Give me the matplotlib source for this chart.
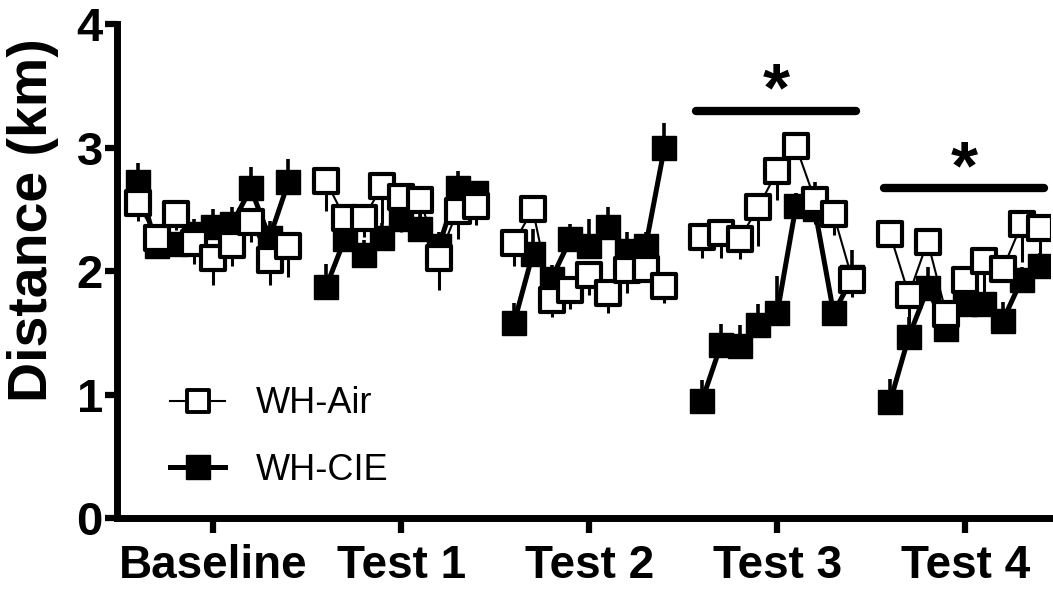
import matplotlib
matplotlib.use("Agg")
import matplotlib.pyplot as plt
from matplotlib.markers import MarkerStyle
from matplotlib.lines import Line2D
import numpy as np

# Session blocks and daily running distance (km), 9 sessions per block
groups = ["Baseline", "Test 1", "Test 2", "Test 3", "Test 4"]
sessions_per_group = 9

air_mean = [2.55, 2.27, 2.46, 2.23, 2.11, 2.21, 2.40, 2.09, 2.20,
            2.73, 2.43, 2.43, 2.69, 2.60, 2.58, 2.11, 2.49, 2.53,
            2.23, 2.50, 1.77, 1.85, 1.97, 1.82, 2.01, 2.02, 1.88,
            2.28, 2.31, 2.26, 2.52, 2.81, 3.01, 2.58, 2.46, 1.93,
            2.30, 1.81, 2.24, 1.65, 1.93, 2.08, 2.02, 2.38, 2.35]
air_sem = [0.14, 0.10, 0.13, 0.17, 0.22, 0.17, 0.16, 0.20, 0.25,
           0.24, 0.12, 0.15, 0.30, 0.28, 0.15, 0.26, 0.23, 0.16,
           0.19, 0.10, 0.14, 0.16, 0.16, 0.16, 0.19, 0.10, 0.14,
           0.17, 0.20, 0.16, 0.32, 0.23, 0.10, 0.20, 0.17, 0.14,
           0.10, 0.23, 0.10, 0.10, 0.10, 0.25, 0.10, 0.31, 0.28]

cie_mean = [2.72, 2.20, 2.22, 2.30, 2.36, 2.38, 2.67, 2.27, 2.72,
            1.87, 2.26, 2.13, 2.27, 2.42, 2.34, 2.20, 2.67, 2.63,
            1.58, 2.14, 1.94, 2.26, 2.20, 2.36, 2.16, 2.20, 3.00,
            0.95, 1.40, 1.39, 1.56, 1.66, 2.53, 2.50, 1.66, 1.95,
            0.94, 1.47, 1.86, 1.53, 1.73, 1.73, 1.60, 1.93, 2.04]
cie_sem = [0.16, 0.10, 0.10, 0.12, 0.14, 0.14, 0.17, 0.14, 0.19,
           0.19, 0.12, 0.12, 0.12, 0.12, 0.12, 0.12, 0.14, 0.10,
           0.16, 0.20, 0.11, 0.12, 0.22, 0.16, 0.16, 0.12, 0.20,
           0.17, 0.17, 0.17, 0.17, 0.30, 0.10, 0.22, 0.10, 0.22,
           0.19, 0.16, 0.17, 0.10, 0.10, 0.10, 0.15, 0.10, 0.11]

# Significance brackets: (block index, bar height, star height)
sig_groups = [3, 4]
sig_bar_y = [3.30, 2.67]
sig_star_y = [3.45, 2.82]

BOLD = "Liberation Sans"
fig = plt.figure(figsize=(10.53, 5.92), dpi=100)
ax = fig.add_axes([0.111, 0.125, 0.886, 0.834])

air_marker = MarkerStyle("s", joinstyle="round")
zeros = np.zeros(sessions_per_group)

for g in range(len(groups)):
    xs = np.arange(sessions_per_group) + 10 * g
    sl = slice(sessions_per_group * g, sessions_per_group * (g + 1))
    cm, cs = np.array(cie_mean[sl]), np.array(cie_sem[sl])
    am, as_ = np.array(air_mean[sl]), np.array(air_sem[sl])
    # WH-CIE: filled squares, upward SEM
    ax.errorbar(xs, cm, yerr=[zeros, cs], fmt="none", ecolor="black",
                elinewidth=2.6, capsize=0, zorder=2)
    ax.plot(xs, cm, color="black", lw=3.6, marker="s", ms=17, mfc="black",
            mec="black", mew=1, zorder=3, solid_capstyle="round")
    # WH-Air: open squares, downward SEM
    ax.errorbar(xs, am, yerr=[as_, zeros], fmt="none", ecolor="black",
                elinewidth=2.2, capsize=0, zorder=4)
    ax.plot(xs, am, color="black", lw=1.5, marker=air_marker, ms=17,
            mfc="white", mec="black", mew=3, zorder=5)

for g, by, sy in zip(sig_groups, sig_bar_y, sig_star_y):
    x0 = 10 * g - 0.3
    x1 = 10 * g + 8.2
    ax.plot([x0, x1], [by, by], color="black", lw=6, solid_capstyle="round",
            zorder=6, clip_on=False)
    ax.text((x0 + x1) / 2, sy, "*", ha="center", va="center",
            fontsize=50, fontweight="bold", family=BOLD, zorder=6)

ax.set_xlim(-1.12, 48.5)
ax.set_ylim(0, 4)
ax.set_xticks([10 * g + 4 for g in range(len(groups))])
ax.set_xticklabels(groups)
ax.set_yticks([0, 1, 2, 3, 4])

for s in ["top", "right"]:
    ax.spines[s].set_visible(False)
for s in ["left", "bottom"]:
    ax.spines[s].set_linewidth(5)
    ax.spines[s].set_capstyle("projecting")

ax.tick_params(axis="both", width=4.5, direction="out")
ax.tick_params(axis="y", length=9, pad=1)
ax.tick_params(axis="x", length=11, pad=8)
for lab in ax.get_xticklabels():
    lab.set_family(BOLD)
    lab.set_fontweight("bold")
    lab.set_fontsize(33)
for lab in ax.get_yticklabels():
    lab.set_family(BOLD)
    lab.set_fontweight("bold")
    lab.set_fontsize(34)

fig.text(0.031, 0.628, "Distance (km)", rotation=90, ha="center", va="center",
         fontsize=40, fontweight="bold", family=BOLD)

handles = [
    Line2D([], [], color="black", lw=1.5, marker=air_marker, ms=16,
           mfc="white", mec="black", mew=2.8),
    Line2D([], [], color="black", lw=3.6, marker="s", ms=17, mfc="black",
           mec="black"),
]
ax.legend(handles, ["WH-Air", "WH-CIE"], loc="center left",
          bbox_to_anchor=(0.057, 0.164), frameon=False,
          prop={"family": BOLD, "size": 26}, handlelength=1.53,
          handletextpad=0.85, labelspacing=0.88, borderpad=0,
          borderaxespad=0)

fig.savefig("out.png", dpi=100)
